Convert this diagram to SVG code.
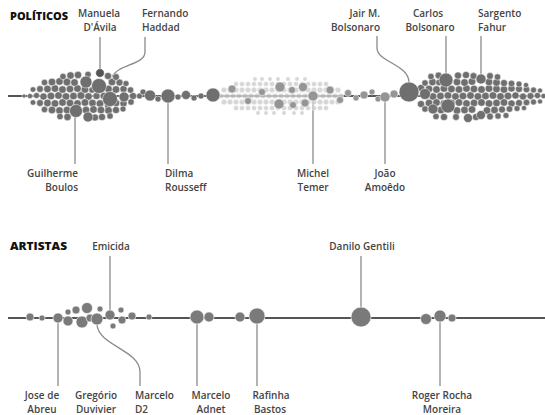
<svg xmlns="http://www.w3.org/2000/svg" width="545" height="415" viewBox="0 0 545 415">
<style>
text{font-family:"Open Sans","DejaVu Sans",sans-serif;font-size:10px;font-weight:600;fill:#444}
.t{font-weight:800;font-size:10.5px;fill:#111}
.m{text-anchor:middle}.s{text-anchor:start}.e{text-anchor:end}
.ax{stroke:#555;stroke-width:2;fill:none}
.ld{stroke:#8a8a8a;stroke-width:1.3;fill:none}
.d circle{fill:#6f6f6f;stroke:#fff;stroke-width:0.5}
.l circle{fill:#cdcdcd;stroke:#fff;stroke-width:0.4;fill-opacity:0.8}
.md circle{fill:#959595;stroke:#fff;stroke-width:0.5}
.b circle{fill:#7a7a7a;stroke:#fff;stroke-width:0.6}
.k{fill:#555 !important}
</style>
<rect width="545" height="415" fill="#fff"/>
<g id="axes">
<path class="ax" d="M8,96H545"/>
<path class="ax" d="M8,318H545"/>
</g>
<g id="connectors">
<path class="ld" d="M100,37V69"/>
<path class="ld" d="M145,37V52C145,65 118,64 112,77"/>
<path class="ld" d="M377,36V48C377,62 408,64 409,82"/>
<path class="ld" d="M446,36V73"/>
<path class="ld" d="M481,36V74"/>
<path class="ld" d="M75,117V164"/>
<path class="ld" d="M168,103V164"/>
<path class="ld" d="M313,101V164"/>
<path class="ld" d="M385,102V164"/>
<path class="ld" d="M110,256V310"/>
<path class="ld" d="M361,256V307"/>
<path class="ld" d="M58,323V386"/>
<path class="ld" d="M97,325C99,346 140,350 140,372V386"/>
<path class="ld" d="M197,324V386"/>
<path class="ld" d="M257,324V386"/>
<path class="ld" d="M440,322V386"/>
</g>
<g id="politicos-swarm-light" class="l">
<circle cx="221" cy="96" r="2.8"/><circle cx="227" cy="96" r="2.8"/><circle cx="233" cy="96" r="2.8"/><circle cx="239" cy="96" r="2.8"/><circle cx="245" cy="96" r="2.8"/><circle cx="251" cy="96" r="2.8"/><circle cx="257" cy="96" r="2.8"/><circle cx="263" cy="96" r="2.8"/><circle cx="269" cy="96" r="2.8"/><circle cx="275" cy="96" r="2.8"/><circle cx="281" cy="96" r="2.8"/><circle cx="287" cy="96" r="2.8"/><circle cx="293" cy="96" r="2.8"/><circle cx="299" cy="96" r="2.8"/><circle cx="305" cy="96" r="2.8"/><circle cx="317" cy="96" r="2.8"/><circle cx="323" cy="96" r="2.8"/><circle cx="329" cy="96" r="2.8"/><circle cx="335" cy="96" r="2.8"/><circle cx="341" cy="96" r="2.8"/>
<circle cx="224" cy="90" r="2.8"/><circle cx="230" cy="90" r="2.8"/><circle cx="236" cy="90" r="2.8"/><circle cx="242" cy="90" r="2.8"/><circle cx="248" cy="90" r="2.8"/><circle cx="254" cy="90" r="2.8"/><circle cx="260" cy="90" r="2.8"/><circle cx="266" cy="90" r="2.8"/><circle cx="272" cy="90" r="2.8"/><circle cx="278" cy="90" r="2.8"/><circle cx="284" cy="90" r="2.8"/><circle cx="290" cy="90" r="2.8"/><circle cx="296" cy="90" r="2.8"/><circle cx="302" cy="90" r="2.8"/><circle cx="308" cy="90" r="2.8"/><circle cx="314" cy="90" r="2.8"/><circle cx="320" cy="90" r="2.8"/><circle cx="326" cy="90" r="2.8"/><circle cx="332" cy="90" r="2.8"/><circle cx="338" cy="90" r="2.8"/>
<circle cx="224" cy="102" r="2.8"/><circle cx="230" cy="102" r="2.8"/><circle cx="236" cy="102" r="2.8"/><circle cx="242" cy="102" r="2.8"/><circle cx="248" cy="102" r="2.8"/><circle cx="254" cy="102" r="2.8"/><circle cx="260" cy="102" r="2.8"/><circle cx="266" cy="102" r="2.8"/><circle cx="272" cy="102" r="2.8"/><circle cx="278" cy="102" r="2.8"/><circle cx="284" cy="102" r="2.8"/><circle cx="290" cy="102" r="2.8"/><circle cx="296" cy="102" r="2.8"/><circle cx="302" cy="102" r="2.8"/><circle cx="308" cy="102" r="2.8"/><circle cx="314" cy="102" r="2.8"/><circle cx="320" cy="102" r="2.8"/><circle cx="326" cy="102" r="2.8"/><circle cx="332" cy="102" r="2.8"/><circle cx="338" cy="102" r="2.8"/>
<circle cx="236" cy="84" r="2.5"/><circle cx="242" cy="84" r="2.5"/><circle cx="248" cy="84" r="2.5"/><circle cx="254" cy="84" r="2.5"/><circle cx="260" cy="84" r="2.5"/><circle cx="266" cy="84" r="2.5"/><circle cx="272" cy="84" r="2.5"/><circle cx="278" cy="84" r="2.5"/><circle cx="284" cy="84" r="2.5"/><circle cx="290" cy="84" r="2.5"/><circle cx="296" cy="84" r="2.5"/><circle cx="302" cy="84" r="2.5"/><circle cx="308" cy="84" r="2.5"/><circle cx="314" cy="84" r="2.5"/><circle cx="320" cy="84" r="2.5"/><circle cx="326" cy="84" r="2.5"/>
<circle cx="236" cy="108" r="2.5"/><circle cx="242" cy="108" r="2.5"/><circle cx="248" cy="108" r="2.5"/><circle cx="254" cy="108" r="2.5"/><circle cx="260" cy="108" r="2.5"/><circle cx="266" cy="108" r="2.5"/><circle cx="272" cy="108" r="2.5"/><circle cx="278" cy="108" r="2.5"/><circle cx="284" cy="108" r="2.5"/><circle cx="290" cy="108" r="2.5"/><circle cx="296" cy="108" r="2.5"/><circle cx="302" cy="108" r="2.5"/><circle cx="308" cy="108" r="2.5"/><circle cx="314" cy="108" r="2.5"/><circle cx="320" cy="108" r="2.5"/><circle cx="326" cy="108" r="2.5"/>
<circle cx="255" cy="79" r="2.2"/><circle cx="262" cy="79" r="2.2"/><circle cx="270" cy="79" r="2.2"/><circle cx="278" cy="79" r="2.2"/><circle cx="288" cy="79" r="2.2"/><circle cx="297" cy="79" r="2.2"/><circle cx="305" cy="79" r="2.2"/>
<circle cx="258" cy="113" r="2.2"/><circle cx="266" cy="113" r="2.2"/><circle cx="274" cy="113" r="2.2"/><circle cx="284" cy="113" r="2.2"/><circle cx="294" cy="113" r="2.2"/><circle cx="302" cy="113" r="2.2"/>
</g>
<g id="politicos-swarm-medium" class="md">
<circle cx="232" cy="89" r="4"/><circle cx="248" cy="101" r="3.5"/><circle cx="262" cy="92" r="3.5"/><circle cx="280" cy="87" r="5"/><circle cx="292" cy="90" r="3.5"/><circle cx="303" cy="87" r="4.5"/><circle cx="279" cy="104" r="5"/><circle cx="293" cy="105" r="3.5"/><circle cx="305" cy="103" r="4"/><circle cx="330" cy="90" r="4"/><circle cx="340" cy="100" r="3.5"/>
<circle cx="348" cy="93" r="3.5"/><circle cx="356" cy="98" r="3"/><circle cx="364" cy="95" r="4"/><circle cx="372" cy="92" r="3"/><circle cx="378" cy="99" r="3"/><circle cx="394" cy="94" r="4"/>
<circle cx="313" cy="96" r="5"/><circle cx="385" cy="97" r="5"/>
</g>
<g id="politicos-swarm-left" class="d">
<circle cx="24" cy="96" r="2"/><circle cx="30" cy="96" r="2.6"/><circle cx="36.5" cy="95.5" r="3"/><circle cx="43.5" cy="96.5" r="3.6"/><circle cx="51" cy="96" r="3.8"/><circle cx="58.5" cy="95.5" r="3.8"/><circle cx="66" cy="96.5" r="3.8"/><circle cx="73.5" cy="96" r="3.8"/><circle cx="81" cy="95.5" r="3.9"/><circle cx="88.5" cy="96.5" r="3.8"/><circle cx="96.5" cy="96" r="3.6"/><circle cx="104" cy="96" r="3.8"/><circle cx="133" cy="96" r="3.6"/><circle cx="139.5" cy="96" r="3"/>
<circle cx="33" cy="89.5" r="2.8"/><circle cx="40" cy="89" r="3.4"/><circle cx="47.5" cy="89" r="3.8"/><circle cx="55" cy="88.5" r="3.8"/><circle cx="62.5" cy="89.5" r="3.8"/><circle cx="70" cy="89" r="3.8"/><circle cx="77.5" cy="88.5" r="3.8"/><circle cx="85" cy="89.5" r="3.8"/><circle cx="92" cy="90" r="3.2"/><circle cx="108.5" cy="89" r="3.8"/><circle cx="116" cy="89.5" r="3.8"/><circle cx="123.5" cy="89" r="3.6"/><circle cx="130.5" cy="90" r="3.2"/>
<circle cx="33" cy="102.5" r="2.8"/><circle cx="40" cy="103" r="3.4"/><circle cx="47.5" cy="103" r="3.8"/><circle cx="55" cy="103.5" r="3.8"/><circle cx="62.5" cy="102.5" r="3.8"/><circle cx="70" cy="103" r="3.8"/><circle cx="77.5" cy="103.5" r="3.8"/><circle cx="85" cy="102.5" r="3.8"/><circle cx="92.5" cy="103" r="3.8"/><circle cx="100" cy="103.5" r="3.8"/><circle cx="108" cy="106" r="3.4"/><circle cx="116" cy="103" r="3.8"/><circle cx="123.5" cy="103.5" r="3.6"/><circle cx="131" cy="102" r="3.2"/>
<circle cx="44.5" cy="82.5" r="3.2"/><circle cx="52" cy="82" r="3.8"/><circle cx="59.5" cy="81.5" r="3.8"/><circle cx="67" cy="82" r="3.9"/><circle cx="74.5" cy="82.5" r="3.8"/><circle cx="112" cy="82" r="3.8"/><circle cx="119.5" cy="82.5" r="3.5"/><circle cx="126" cy="83.5" r="3"/>
<circle cx="44.5" cy="109.5" r="3.2"/><circle cx="52" cy="110" r="3.8"/><circle cx="59.5" cy="110.5" r="3.8"/><circle cx="67" cy="110" r="3.8"/><circle cx="86" cy="110" r="3.8"/><circle cx="93.5" cy="109.5" r="3.8"/><circle cx="101" cy="110" r="3.8"/><circle cx="108.5" cy="110.5" r="3.8"/><circle cx="116" cy="110" r="3.6"/><circle cx="123" cy="109" r="3"/>
<circle cx="63" cy="76.5" r="3.2"/><circle cx="70.5" cy="75.5" r="3.7"/><circle cx="78" cy="75" r="3.7"/><circle cx="88" cy="74.5" r="3.2"/><circle cx="108" cy="76" r="3.6"/><circle cx="116" cy="77" r="3.4"/>
<circle cx="60" cy="116.5" r="3.2"/><circle cx="67.5" cy="117" r="3.7"/><circle cx="95" cy="117.5" r="3.6"/><circle cx="102" cy="117" r="3.6"/><circle cx="110" cy="116" r="3.2"/>
<circle cx="99" cy="86" r="7.5"/><circle cx="86" cy="82" r="6"/><circle cx="110" cy="99" r="7.5"/><circle cx="76" cy="111" r="6.5"/><circle cx="88" cy="117" r="5"/><circle cx="124" cy="97" r="5"/>
<circle class="k" cx="100" cy="73" r="4.3"/>
<circle cx="143" cy="92" r="3"/><circle cx="150" cy="95.5" r="5.5"/><circle cx="158" cy="99" r="3"/><circle cx="168" cy="96" r="7"/><circle cx="178" cy="97" r="3"/><circle cx="186" cy="95" r="4.5"/><circle cx="194" cy="98" r="3"/><circle cx="201" cy="96" r="3"/><circle cx="213" cy="95" r="7"/>
</g>
<g id="politicos-swarm-right" class="d">
<circle cx="433" cy="96.5" r="3.8"/><circle cx="440.5" cy="96" r="3.8"/><circle cx="448" cy="95.5" r="3.8"/><circle cx="455.5" cy="96.5" r="3.8"/><circle cx="463" cy="96" r="3.8"/><circle cx="470.5" cy="95.5" r="3.8"/><circle cx="478" cy="96.5" r="3.8"/><circle cx="485.5" cy="96" r="3.8"/><circle cx="493" cy="95.5" r="3.8"/><circle cx="500.5" cy="96.5" r="3.8"/><circle cx="508" cy="96" r="3.8"/><circle cx="515.5" cy="95.5" r="3.6"/><circle cx="523" cy="96.5" r="3.5"/><circle cx="530.5" cy="96" r="3.4"/><circle cx="537.5" cy="95.5" r="3.1"/><circle cx="543.5" cy="96" r="2.6"/>
<circle cx="421" cy="88" r="3.6"/><circle cx="429" cy="89" r="3.8"/><circle cx="436.5" cy="89.5" r="3.8"/><circle cx="444" cy="88.5" r="3.8"/><circle cx="451.5" cy="89" r="3.8"/><circle cx="459" cy="89.5" r="3.8"/><circle cx="466.5" cy="88.5" r="3.8"/><circle cx="474" cy="89" r="3.8"/><circle cx="481.5" cy="89.5" r="3.8"/><circle cx="489" cy="88.5" r="3.8"/><circle cx="496.5" cy="89" r="3.8"/><circle cx="504" cy="89.5" r="3.8"/><circle cx="511.5" cy="88.5" r="3.6"/><circle cx="519" cy="89" r="3.5"/><circle cx="526.5" cy="89.5" r="3.3"/><circle cx="533.5" cy="90" r="3"/><circle cx="540" cy="90.5" r="2.5"/>
<circle cx="421" cy="104" r="3.6"/><circle cx="429" cy="103" r="3.8"/><circle cx="436.5" cy="102.5" r="3.8"/><circle cx="444" cy="103.5" r="3.8"/><circle cx="451.5" cy="103" r="3.8"/><circle cx="459" cy="102.5" r="3.8"/><circle cx="466.5" cy="103.5" r="3.8"/><circle cx="474" cy="103" r="3.8"/><circle cx="481.5" cy="102.5" r="3.8"/><circle cx="489" cy="103.5" r="3.8"/><circle cx="496.5" cy="103" r="3.8"/><circle cx="504" cy="102.5" r="3.8"/><circle cx="511.5" cy="103.5" r="3.6"/><circle cx="519" cy="103" r="3.5"/><circle cx="526.5" cy="102.5" r="3.3"/><circle cx="533.5" cy="102" r="3"/><circle cx="540" cy="101.5" r="2.5"/>
<circle cx="425" cy="83" r="3.2"/><circle cx="432.5" cy="82" r="3.8"/><circle cx="439" cy="82.5" r="3.2"/><circle cx="457" cy="82" r="3.8"/><circle cx="464.5" cy="82.5" r="3.8"/><circle cx="472" cy="81.5" r="3.8"/><circle cx="489" cy="82" r="3.8"/><circle cx="496.5" cy="82.5" r="3.8"/><circle cx="504" cy="83" r="3.5"/><circle cx="511.5" cy="83.5" r="3.3"/><circle cx="519" cy="84" r="3"/><circle cx="526" cy="85" r="2.6"/>
<circle cx="425" cy="109" r="3.2"/><circle cx="441" cy="110" r="3.8"/><circle cx="457" cy="110.5" r="3.8"/><circle cx="464.5" cy="110" r="3.8"/><circle cx="472" cy="109.5" r="3.8"/><circle cx="487" cy="110.5" r="3.8"/><circle cx="494.5" cy="110" r="3.8"/><circle cx="502" cy="109.5" r="3.5"/><circle cx="509.5" cy="109" r="3.3"/><circle cx="517" cy="108.5" r="3"/><circle cx="524" cy="108" r="2.6"/>
<circle cx="431" cy="76.5" r="3.2"/><circle cx="438.5" cy="75.5" r="3.4"/><circle cx="458" cy="75.5" r="3.6"/><circle cx="466" cy="75" r="3.6"/><circle cx="473.5" cy="76" r="3.4"/><circle cx="490" cy="76" r="3.4"/><circle cx="497.5" cy="77" r="3.2"/>
<circle cx="436" cy="116.5" r="3.2"/><circle cx="444" cy="117" r="3.6"/><circle cx="456" cy="117" r="3.4"/><circle cx="476" cy="117" r="3.6"/><circle cx="490" cy="116.5" r="3.4"/><circle cx="498" cy="116" r="3.2"/><circle cx="506" cy="115.5" r="3"/>
<circle cx="425" cy="94" r="5.5"/><circle cx="433" cy="109" r="5"/><circle cx="448" cy="106" r="7"/><circle cx="468" cy="118" r="4.5"/><circle cx="481" cy="115" r="4.5"/>
<circle cx="446" cy="80" r="7"/><circle cx="481" cy="79" r="5"/>
<circle cx="409" cy="92" r="10"/>
</g>
<g id="artistas-swarm" class="b">
<circle cx="30" cy="317" r="4"/><circle cx="42" cy="318" r="3"/><circle cx="58" cy="318" r="5"/><circle cx="68" cy="321" r="5"/><circle cx="68" cy="312" r="3"/><circle cx="76" cy="310" r="4"/><circle cx="82" cy="322" r="6"/><circle cx="87" cy="308" r="5.5"/><circle cx="90" cy="318" r="4"/><circle cx="97" cy="319" r="6"/><circle cx="100" cy="309" r="3"/><circle cx="110" cy="315" r="5"/><circle cx="121" cy="310" r="3"/><circle cx="113" cy="326" r="3"/><circle cx="122" cy="320" r="4"/><circle cx="132" cy="316" r="4"/><circle cx="149" cy="317" r="3"/>
<circle cx="197" cy="317" r="7"/><circle cx="209" cy="317" r="5"/><circle cx="240" cy="317" r="5"/><circle cx="257" cy="316" r="8"/>
<circle cx="361" cy="317" r="10"/>
<circle cx="426" cy="319" r="5.5"/><circle cx="440" cy="316" r="6"/><circle cx="452" cy="318" r="4"/>
</g>
<g id="titles">
<text class="t" x="10" y="20" textLength="58" lengthAdjust="spacingAndGlyphs">POLÍTICOS</text>
<text class="t" x="10" y="250" textLength="57" lengthAdjust="spacingAndGlyphs">ARTISTAS</text>
</g>
<g id="label-manuela"><text class="m" x="99" y="17">Manuela</text><text class="m" x="100" y="31">D'Ávila</text></g>
<g id="label-haddad"><text class="s" x="142" y="17">Fernando</text><text class="s" x="142" y="31">Haddad</text></g>
<g id="label-jair"><text class="e" x="380" y="17">Jair M.</text><text class="e" x="380" y="31">Bolsonaro</text></g>
<g id="label-carlos"><text class="m" x="428" y="17">Carlos</text><text class="m" x="430" y="31">Bolsonaro</text></g>
<g id="label-sargento"><text class="s" x="478" y="17">Sargento</text><text class="s" x="478" y="31">Fahur</text></g>
<g id="label-boulos"><text class="e" x="78" y="177">Guilherme</text><text class="e" x="78" y="191">Boulos</text></g>
<g id="label-dilma"><text class="s" x="165" y="177">Dilma</text><text class="s" x="165" y="191">Rousseff</text></g>
<g id="label-temer"><text class="m" x="313" y="177">Michel</text><text class="m" x="313" y="191">Temer</text></g>
<g id="label-amoedo"><text class="m" x="385" y="177">João</text><text class="m" x="385" y="191">Amoêdo</text></g>
<g id="label-emicida"><text class="m" x="111" y="250">Emicida</text></g>
<g id="label-gentili"><text class="m" x="362" y="250">Danilo Gentili</text></g>
<g id="label-abreu"><text class="m" x="42" y="399">Jose de</text><text class="m" x="42" y="413">Abreu</text></g>
<g id="label-duvivier"><text class="m" x="96" y="399">Gregório</text><text class="m" x="96" y="413">Duvivier</text></g>
<g id="label-d2"><text class="s" x="135" y="399">Marcelo</text><text class="s" x="135" y="413">D2</text></g>
<g id="label-adnet"><text class="m" x="211" y="399">Marcelo</text><text class="m" x="211" y="413">Adnet</text></g>
<g id="label-bastos"><text class="m" x="271" y="399">Rafinha</text><text class="m" x="270" y="413">Bastos</text></g>
<g id="label-moreira"><text class="m" x="442" y="399">Roger Rocha</text><text class="m" x="442" y="413">Moreira</text></g>
</svg>
